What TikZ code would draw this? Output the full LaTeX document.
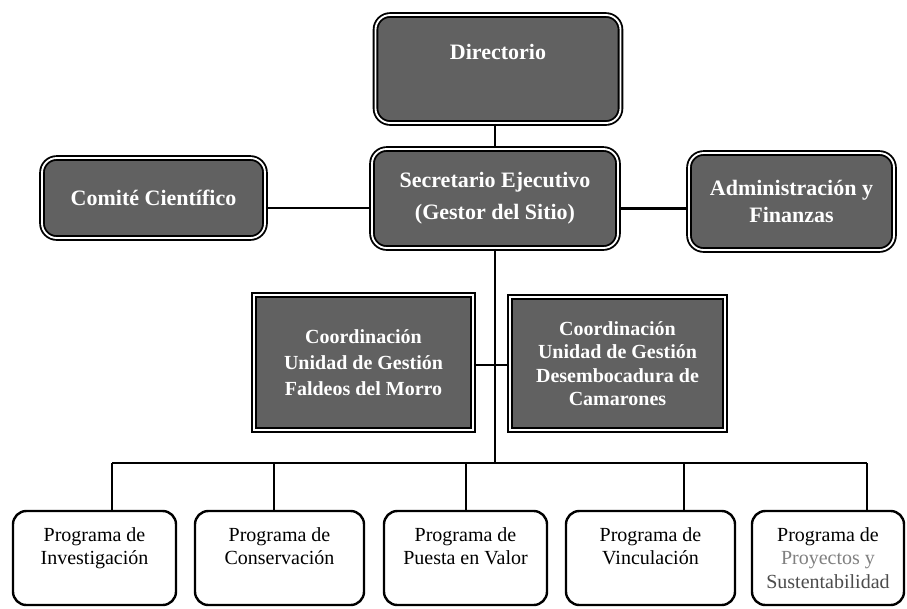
\documentclass[tikz,border=0pt]{standalone}
\usepackage{fontspec}
\setmainfont{Liberation Serif}
\tikzset{every picture/.style={line width=0.75pt}}
\tikzset{
  darkbox/.style={draw=black, double=white, double distance=1.4pt, line width=1.4pt, fill=black!62, text=white, align=center, inner sep=0pt, font=\bfseries\fontsize{16.5}{20}\selectfont},
  roundbox/.style={darkbox, rounded corners=11pt},
  squarebox/.style={darkbox, font=\bfseries\fontsize{15}{19.5}\selectfont},
  progbox/.style={draw=black, line width=1.8pt, fill=white, rounded corners=10pt, align=center, inner sep=0pt, minimum height=70.5pt, font=\fontsize{15}{17.5}\selectfont},
  orgline/.style={line width=1.9pt, draw=black}
}

\begin{document}
\begin{tikzpicture}[x=0.75pt,y=0.75pt,yscale=-1,xscale=1]
\path[use as bounding box] (0,0) rectangle (907,608);

%Top level
\node[roundbox, minimum width=183.75pt, minimum height=81pt, text depth=26pt] (dir) at (498,69) {Directorio};
\node[roundbox, minimum width=184.5pt, minimum height=74.25pt, font=\bfseries\fontsize{16.5}{24}\selectfont] (sec) at (495,198.5) {Secretario Ejecutivo\\(Gestor del Sitio)};
\node[roundbox, minimum width=167.25pt, minimum height=60pt] (com) at (153.5,198) {Comité Científico};
\node[roundbox, minimum width=153.75pt, minimum height=72.75pt] (adm) at (791.5,201.5) {Administración y\\Finanzas};

%Coordination units
\node[squarebox, minimum width=164.25pt, minimum height=101.25pt] (coordA) at (363.5,362.5) {Coordinación\\Unidad de Gestión\\Faldeos del Morro};
\node[squarebox, minimum width=161.25pt, minimum height=99.75pt, font=\bfseries\fontsize{15}{17.5}\selectfont] (coordB) at (617.5,363.5) {Coordinación\\Unidad de Gestión\\Desembocadura de\\Camarones};

%Programs
\node[progbox, minimum width=122.25pt] (prog1) at (94.5,558) {Programa de\\Investigación\\\mbox{}};
\node[progbox, minimum width=126.75pt] (prog2) at (279.5,558) {Programa de\\Conservación\\\mbox{}};
\node[progbox, minimum width=122.25pt] (prog3) at (465.5,558) {Programa de\\Puesta en Valor\\\mbox{}};
\node[progbox, minimum width=126.75pt] (prog4) at (650.5,558) {Programa de\\Vinculación\\\mbox{}};
\node[progbox, minimum width=114pt] (prog5) at (828,558) {Programa de\\\textcolor{black!50}{Proyectos y}\\\textcolor{black!70}{Sustentabilidad}};

%Bus points
\coordinate (b1) at (112,463);
\coordinate (b2) at (274,463);
\coordinate (b3) at (466,463);
\coordinate (b4) at (684,463);
\coordinate (b5) at (867,463);

%Connectors
\draw[orgline] (dir.south -| sec.north) -- (sec.north);
\draw[orgline] ([yshift=7.5pt]com.east) -- ([yshift=7.5pt]com.east -| sec.west);
\draw[orgline] ([yshift=7.5pt]sec.east) -- ([yshift=7.5pt]sec.east -| adm.west);
\draw[orgline] (sec.south) -- (sec.south |- b1);
\draw[orgline] ([yshift=2pt]coordA.east) -- ([yshift=2pt]coordA.east -| coordB.west);
\draw[orgline] (b1) -- (b5);
\foreach \b/\p in {b1/prog1, b2/prog2, b3/prog3, b4/prog4, b5/prog5}
  \draw[orgline] (\b) -- (\b |- \p.north);

\end{tikzpicture}
\end{document}
